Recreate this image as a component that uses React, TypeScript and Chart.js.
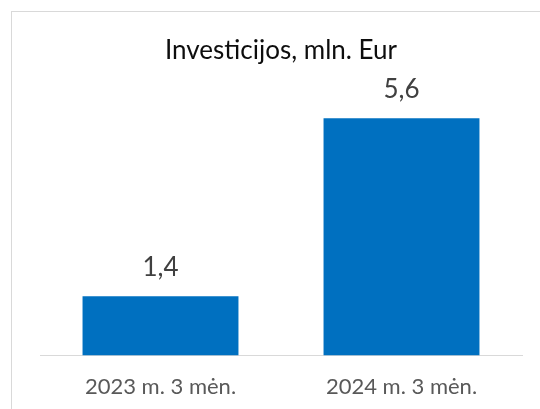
import React, { useEffect, useRef } from "react";
import { Chart, registerables } from "chart.js";

Chart.register(...registerables);

const categories = ["2023 m. 3 mėn.", "2024 m. 3 mėn."];
const investValues = [1.4, 5.6];
const valueLabels = ["1,4", "5,6"];
const chartTitle = "Investicijos, mln. Eur";

const FONT = "Lato";

const dataLabelPlugin = {
  id: "dataLabels",
  afterDatasetsDraw(chart: any) {
    const ctx = chart.ctx;
    const meta = chart.getDatasetMeta(0);
    ctx.save();
    ctx.font = `26px ${FONT}`;
    ctx.fillStyle = "#404040";
    ctx.textAlign = "center";
    ctx.textBaseline = "alphabetic";
    meta.data.forEach((bar: any, i: number) => {
      ctx.fillText(valueLabels[i], bar.x, bar.y - 20);
    });
    ctx.restore();
  },
};

export default function App() {
  const ref = useRef<HTMLCanvasElement>(null);
  useEffect(() => {
    if (!ref.current) return;
    const chart = new Chart(ref.current, {
      type: "bar",
      data: {
        labels: categories,
        datasets: [
          {
            data: investValues,
            backgroundColor: "#0070C0",
            borderWidth: 0,
            barPercentage: 0.647,
            categoryPercentage: 1,
          },
        ],
      },
      options: {
        responsive: false,
        animation: false,
        devicePixelRatio: 1,
        layout: { padding: { left: 40, right: 18, top: 0, bottom: -9 } },
        plugins: {
          legend: { display: false },
          tooltip: { enabled: false },
          title: {
            display: true,
            text: chartTitle,
            color: "#0d0d0d",
            font: { family: FONT, size: 26, weight: "normal" },
            padding: { top: 35, bottom: 35 },
          },
        },
        scales: {
          x: {
            grid: { display: false, drawTicks: false },
            border: { display: true, color: "#d9d9d9", width: 1 },
            ticks: {
              color: "#595959",
              font: { family: FONT, size: 22 },
              padding: 18,
            },
          },
          y: {
            display: false,
            min: 0,
            max: 6,
          },
        },
      },
      plugins: [dataLabelPlugin],
    });
    return () => chart.destroy();
  }, []);

  return (
    <div
      style={{
        position: "absolute",
        left: 0,
        top: 0,
        width: 540,
        height: 409,
        overflow: "hidden",
        background: "#fff",
      }}
    >
      <div
        style={{
          position: "absolute",
          left: 11,
          top: 11,
          width: 600,
          height: 500,
          border: "1px solid #d9d9d9",
        }}
      />
      <canvas
        ref={ref}
        width={540}
        height={409}
        style={{ position: "absolute", left: 0, top: 0 }}
      />
    </div>
  );
}
